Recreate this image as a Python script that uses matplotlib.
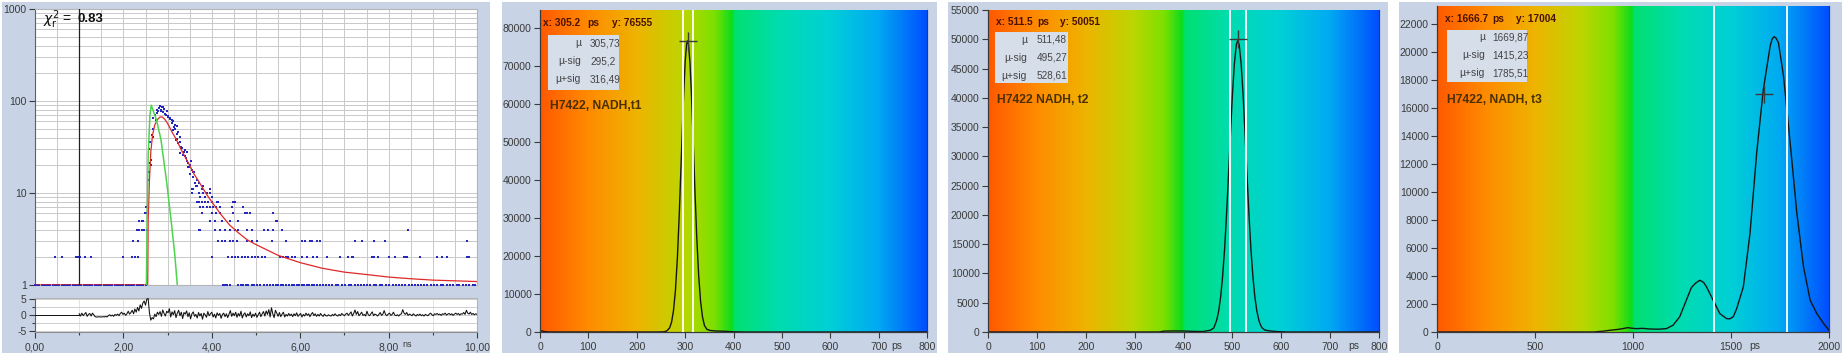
import numpy as np
import matplotlib
matplotlib.use("Agg")
import matplotlib.pyplot as plt
from matplotlib.colors import LinearSegmentedColormap
from matplotlib.patches import Rectangle
from matplotlib.ticker import MultipleLocator, FixedLocator, FixedFormatter, LogLocator, NullFormatter

plt.rcParams['font.family'] = ['Liberation Sans', 'DejaVu Sans']
plt.rcParams['mathtext.fontset'] = 'dejavusans'

# ======================= DATA =======================
# --- panel 1: fluorescence decay (counts vs ns), log scale ---
chi2_value = "0.83"
marker_line_ns = 1.0

lvl1_ns = [0.00, 0.05, 0.10, 0.15, 0.20, 0.25, 0.30, 0.35, 0.40, 0.45, 0.50, 0.55, 0.60,
           0.65, 0.70, 0.75, 0.80, 0.85, 0.90, 0.95, 1.00, 1.05, 1.10, 1.15, 1.20, 1.25,
           1.30, 1.35, 1.40, 1.45, 1.50, 1.55, 1.60, 1.65, 1.70, 1.75, 1.80, 1.85, 1.90,
           1.95, 2.00, 2.05, 2.10, 2.15, 2.20, 2.25, 2.30, 2.35, 2.40, 2.45, 2.50,
           4.26, 4.30, 4.34, 4.41, 4.60, 4.66, 4.71, 4.77, 4.83, 4.90, 4.96, 5.03, 5.09,
           5.17, 5.24, 5.32, 5.39, 5.45, 5.50, 5.56, 5.62, 5.69, 5.75, 5.81, 5.87, 5.92,
           5.98, 6.03, 6.09, 6.15, 6.21, 6.26, 6.32, 6.37, 6.45, 6.52, 6.58, 6.65, 6.72,
           6.80, 6.86, 6.94, 7.02, 7.10, 7.16, 7.24, 7.30, 7.38, 7.45, 7.52, 7.58, 7.66,
           7.72, 7.80, 7.86, 7.94, 8.02, 8.10, 8.16, 8.24, 8.30, 8.38, 8.46, 8.52, 8.60,
           8.66, 8.74, 8.80, 8.88, 8.96, 9.02, 9.10, 9.18, 9.24, 9.32, 9.40, 9.46, 9.54,
           9.60, 9.68, 9.76, 9.82, 9.90, 9.96]
lvl2_ns = [0.45, 0.60, 0.93, 0.97, 1.02, 1.13, 1.26, 1.98, 2.19, 2.26, 2.32, 4.00, 4.37,
           4.45, 4.53, 4.60, 4.68, 4.75, 4.83, 4.90, 4.98, 5.05, 5.13, 5.20, 5.54, 5.62,
           5.69, 5.73, 5.81, 5.88, 6.03, 6.15, 6.30, 6.38, 6.60, 6.90, 7.09, 7.17, 7.20,
           7.62, 7.66, 7.77, 8.00, 8.15, 8.34, 8.38, 8.42, 8.72, 9.09, 9.21, 9.32, 9.77, 9.81]
lvl3_ns = [2.21, 2.34, 4.15, 4.22, 4.30, 4.41, 4.49, 4.56, 4.79, 4.90, 5.02, 5.36, 5.69,
           6.03, 6.11, 6.22, 6.26, 6.37, 6.45, 7.25, 7.40, 7.66, 7.92, 9.77]
lvl4_ns = [2.30, 2.36, 2.41, 2.47, 2.53, 3.72, 3.73, 4.07, 4.19, 4.30, 4.41, 4.53, 4.60,
           4.79, 4.90, 5.17, 5.28, 5.39, 5.58, 8.45]
lvl5_ns = [2.36, 2.41, 2.45, 3.96, 4.07, 4.23, 4.41, 4.60, 5.45, 5.47]
lvl6_ns = [2.49, 2.53, 3.77, 4.00, 4.10, 4.19, 4.49, 4.75, 4.79, 4.87, 5.39]
lvl7_ns = [2.50, 3.73, 3.81, 3.89, 3.96, 4.03, 4.10, 4.19, 4.45, 4.71]
lvl8_ns = [3.66, 3.70, 3.77, 3.85, 3.92, 4.00, 4.11, 4.15, 4.49, 4.53]

peak_ns = [3.74, 3.85, 4.00, 3.81, 3.55, 3.58, 3.90, 3.72, 3.95, 3.55,
           3.77, 3.67, 3.62, 3.70, 3.66, 3.60, 3.57, 3.51, 3.47, 3.55,
           3.58, 3.51, 3.43, 3.47, 3.39, 3.34, 3.43, 3.36, 3.32, 3.28,
           3.39, 3.24, 3.28, 3.22, 3.19, 3.27, 3.21, 3.24, 3.13, 3.17,
           3.21, 3.17, 3.13, 3.09, 3.05, 3.02, 2.98, 2.94, 2.89, 2.84,
           2.79, 2.75, 2.83, 2.87, 2.90, 2.71, 2.68, 2.74, 2.66, 2.64,
           2.68, 2.62, 2.60, 2.63, 2.58, 2.57, 2.59, 2.61, 2.92, 2.96,
           3.00, 2.81, 2.86, 3.10, 3.06, 3.15, 2.77, 3.30, 3.41, 3.49,
           3.53, 3.64, 3.80, 3.96]
peak_counts = [9, 9, 9, 10, 10, 11, 10, 10, 11, 11,
               11, 12, 13, 13, 14, 17, 15, 16, 19, 18,
               17, 20, 22, 21, 25, 26, 28, 28, 31, 27,
               29, 35, 36, 39, 38, 41, 44, 46, 48, 50,
               53, 55, 60, 62, 65, 69, 77, 73, 75, 78,
               77, 80, 88, 87, 85, 70, 65, 62, 50, 43,
               41, 23, 21, 20, 14, 17, 30, 36, 82, 71,
               67, 84, 79, 57, 63, 52, 74, 32, 24, 19,
               22, 12, 12, 10]

fit_ns = [0.0, 2.50, 2.55, 2.56, 2.59, 2.62, 2.66, 2.71, 2.77, 2.83, 2.88, 2.94, 3.00,
          3.10, 3.20, 3.30, 3.40, 3.50, 3.60, 3.70, 3.80, 3.90, 4.00, 4.20, 4.40, 4.60,
          4.80, 5.00, 5.50, 6.00, 6.50, 7.00, 7.50, 8.00, 8.50, 9.00, 9.50, 10.0]
fit_counts = [1.0, 1.0, 1.0, 5.0, 14, 28, 43, 55, 63, 67, 67, 63, 57,
              46, 38, 30, 24.5, 20, 16, 13.5, 11.2, 9.4, 8.0, 5.9, 4.5, 3.7,
              3.1, 2.75, 2.1, 1.75, 1.52, 1.38, 1.30, 1.22, 1.17, 1.13, 1.11, 1.09]

irf_ns = [2.52, 2.54, 2.56, 2.60, 2.63, 2.75, 2.85, 2.98, 3.09, 3.16, 3.22]
irf_counts = [1.0, 6, 25, 70, 90, 62, 38, 13, 4.5, 2.2, 1.0]

resid_flat_ns = [0.0, 1.0]
resid_flat = [0.0, 0.0]
resid_start, resid_end = 1.0, 10.0
residuals = [
    0.4, -0.3, 0.6, -0.2, 0.3, 0.8, -0.4, 0.2, 0.5, -0.3,
    0.6, 0.1, -0.5, -0.6, -0.6, -0.5, -0.6, -0.6, -0.5, -0.6,
    -0.4, -0.6, -0.2, 0.1, -0.3, 0.0, -0.4, 0.2, -0.1, 0.3,
    -0.2, 0.5, 0.9, 0.2, 0.6, -0.1, 0.4, 1.2, 0.3, 0.8,
    1.5, 0.4, 1.9, 0.9, 2.4, 1.3, 3.2, 2.1, 3.8, 4.4,
    3.1, 5.0, 5.2, 0.6, -1.6, -0.8, -1.2, 0.3, -0.5, 0.9,
    0.2, 1.1, -0.4, 1.6, 0.5, -0.3, 1.2, 0.7, 2.0, -0.6,
    1.0, 0.1, 1.4, -0.8, 0.6, 1.5, -0.2, 0.9, -1.1, 0.8,
    0.3, 1.3, -0.5, 0.7, -1.2, 0.4, 1.0, -0.4, 0.2, -0.9,
    0.8, -0.3, 0.5, -1.3, 0.6, 0.1, -0.7, 1.1, -0.2, 0.4,
    0.9, -0.6, 0.3, -0.9, 0.7, -0.1, 0.5, -1.0, 0.2, 0.6,
    -0.5, 0.4, -0.8, 0.3, 1.4, -0.4, 0.6, -0.2, 0.9, -0.7,
    0.5, -0.3, 1.2, -0.9, 0.2, 0.7, -0.6, 0.4, -0.2, 1.0,
    -0.8, 0.3, -0.4, 0.6, -0.7, 0.1, 0.9, -0.5, 0.4, 1.1,
    -0.3, 1.3, 0.2, 1.7, -0.6, 2.3, 0.4, -0.8, 1.5, 0.6,
    -0.4, 0.8, -0.5, 0.3, 0.9, -0.6, 0.2, -0.3, 0.5, -0.2,
    0.3, -0.5, 0.4, -0.2, 0.7, -0.4, 0.1, 0.5, -0.6, 0.2,
    -0.3, 0.6, -0.1, 0.4, -0.5, 0.3, 0.8, -0.2, 0.4, -0.4,
    0.2, -0.3, 0.5, -0.1, -0.4, 0.3, -0.2, -0.3, 0.1, -0.2,
    -0.3, 0.2, -0.2, 0.4, -0.1, -0.3, 0.2, -0.2, 0.5, 0.1,
    -0.2, 0.3, 0.6, -0.1, 0.4, 1.0, -0.3, 0.5, 1.6, 0.2,
    1.1, -0.2, 0.3, 0.9, -0.1, 0.2, -0.3, 1.2, 0.1, -0.2,
    0.4, 1.0, -0.2, 0.3, 0.1, -0.3, 0.2, 0.8, -0.1, 0.3,
    1.4, 0.2, -0.2, 0.3, 0.6, -0.1, 0.2, 0.9, 0.0, -0.2,
    0.1, -0.3, 0.2, 0.4, 1.7, 0.6, 0.2, 0.8, -0.1, 0.3,
    0.1, -0.2, 0.4, 0.0, -0.3, 0.2, -0.1, 0.3, -0.2, 0.1,
    -0.3, 0.2, 0.0, -0.2, 0.3, 0.6, 0.1, -0.2, 0.4, 0.2,
    0.5, 0.1, 0.3, -0.1, 0.4, 0.2, 0.6, 0.0, 0.3, 0.5,
    0.1, 0.4, -0.1, 0.3, 0.6, 0.2, 0.5, 0.0, 0.4, 0.3,
    0.8, 0.2, 1.5, 0.6, 0.3, 0.9, 0.2, 0.5, 0.1, 0.4,
    0.2]
p1_xticks = [0, 2, 4, 6, 8, 10]
p1_yticks = [1, 10, 100, 1000]
res_yticks = [-5, 0, 5]

# --- panels 2-4: lifetime histograms (counts vs ps) ---
t1_ps = [0, 5, 10, 20, 60, 150, 240, 255, 262, 268, 272, 276, 280, 284, 288, 292, 296,
         300, 303, 305, 307, 310, 313, 316, 320, 324, 328, 332, 336, 340, 345, 352, 365,
         380, 395, 420, 600, 800]
t1_counts = [300, 250, 100, 0, 0, 0, 0, 33, 250, 1100, 2600, 5650, 11000, 19500, 31300,
             45400, 59600, 70900, 75650, 76600, 75650, 70900, 62800, 52600, 38100, 25000,
             14900, 8000, 3900, 1700, 700, 400, 250, 200, 80, 0, 0, 0]
t1_stats = [305.73, 295.2, 316.49]          # mu, mu-sig, mu+sig
t1_cursor = [305.2, 76555]
t1_title = "H7422, NADH,t1"

t2_ps = [0, 100, 200, 300, 350, 360, 380, 400, 420, 440, 455, 462, 468, 472, 476, 480,
         484, 488, 492, 496, 500, 504, 508, 511, 514, 518, 522, 526, 530, 534, 538, 542,
         546, 550, 555, 560, 566, 575, 590, 610, 700, 800]
t2_counts = [0, 0, 0, 0, 0, 150, 180, 170, 100, 80, 300, 700, 2030, 3590, 6000, 9450,
             14100, 19950, 26700, 33700, 40400, 45750, 49030, 49800, 49030, 45750, 40400,
             33700, 26700, 19950, 14100, 9450, 6000, 3590, 1750, 780, 350, 200, 80, 0, 0, 0]
t2_stats = [511.48, 495.27, 528.61]
t2_cursor = [511.5, 50051]
t2_title = "H7422 NADH, t2"

t3_ps = [0, 400, 800, 850, 880, 920, 948, 973, 1000, 1016, 1050, 1085, 1130, 1170, 1204,
         1238, 1272, 1298, 1320, 1341, 1360, 1375, 1409, 1443, 1477, 1494, 1512, 1529,
         1563, 1597, 1631, 1665, 1700, 1710, 1720, 1730, 1742, 1768, 1802, 1836, 1870,
         1904, 1938, 1973, 2000]
t3_counts = [0, 0, 0, 60, 120, 180, 240, 310, 260, 240, 260, 215, 200, 240, 480,
             1080, 2270, 3180, 3500, 3700, 3550, 3230, 2270, 1315, 960, 940, 1100, 1670,
             3230, 7050, 12790, 17340, 20450, 20950, 21110, 21000, 20680, 18290, 13510,
             8490, 4660, 2270, 1315, 600, 120]
t3_stats = [1669.87, 1415.23, 1785.51]
t3_cursor = [1666.7, 17004]
t3_title = "H7422, NADH, t3"

stat_labels = ["\u00b5", "\u00b5-sig", "\u00b5+sig"]

# ======================= FIGURE =======================
W, H = 1844, 357
fig = plt.figure(figsize=(W / 100, H / 100), dpi=100, facecolor='white')
BG = '#c8d4e6'
TICK_C = '#3a3a3a'
FS = 7.5


def px_axes(l, t, r, b):
    return fig.add_axes([l / W, 1 - b / H, (r - l) / W, (b - t) / H])


def px_rect(l, t, r, b, **kw):
    rect = Rectangle((l / W, 1 - b / H), (r - l) / W, (b - t) / H,
                     transform=fig.transFigure, **kw)
    fig.patches.append(rect)


def px_text(x, y, s, **kw):
    fig.text(x / W, 1 - y / H, s, **kw)


def comma(v, fmt=None):
    s = (fmt.format(v) if fmt else str(v))
    return s.replace('.', ',')


# panel backgrounds
for l, r in [(2, 490), (502, 937), (948, 1388), (1399, 1842)]:
    px_rect(l, 2, r, 353, facecolor=BG, edgecolor='none', zorder=-10)

# ---------- panel 1 main ----------
ax1 = px_axes(35, 9, 477, 285)
ax1.set_facecolor('white')
ax1.set_yscale('log')
ax1.set_xlim(0, 10)
ax1.set_ylim(1, 1000)
ax1.xaxis.set_major_locator(MultipleLocator(0.5))
ax1.tick_params(axis='x', length=0, labelbottom=False)
ax1.yaxis.set_major_locator(FixedLocator(p1_yticks))
ax1.yaxis.set_major_formatter(FixedFormatter([str(v) for v in p1_yticks]))
ax1.yaxis.set_minor_locator(LogLocator(base=10, subs=(2, 3, 4, 5, 6, 7, 8, 9)))
ax1.yaxis.set_minor_formatter(NullFormatter())
ax1.tick_params(axis='y', which='major', length=4, width=0.8, color=TICK_C,
                labelsize=FS, labelcolor=TICK_C, pad=2)
ax1.tick_params(axis='y', which='minor', length=0)
ax1.grid(True, axis='y', which='both', color='#c9c9c9', lw=0.7)
ax1.grid(True, axis='x', which='major', color='#c9c9c9', lw=0.7)
ax1.set_axisbelow(True)
for s in ax1.spines.values():
    s.set_color('#b5b5b5')
    s.set_linewidth(0.8)
ax1.spines['left'].set_color('#606060')

dots_ns = []
dots_n = []
for lvl, arr in [(1, lvl1_ns), (2, lvl2_ns), (3, lvl3_ns), (4, lvl4_ns), (5, lvl5_ns),
                 (6, lvl6_ns), (7, lvl7_ns), (8, lvl8_ns)]:
    dots_ns += arr
    dots_n += [lvl] * len(arr)
dots_ns += peak_ns
dots_n += peak_counts

ax1.plot(dots_ns, dots_n, ls='none', marker='s', ms=1.9, mew=0,
         color='#2525c0', zorder=3, clip_on=False)
ax1.plot(fit_ns, fit_counts, color='#e02828', lw=0.9, zorder=4)
ax1.plot(irf_ns, irf_counts, color='#4cd44c', lw=1.1, zorder=4)
ax1.axvline(marker_line_ns, color='#202020', lw=0.9, zorder=5)

px_text(43, 20, r'$\chi^2_{\mathrm{r}}$ =', fontsize=10, va='center', ha='left', color='#111111')
px_text(78, 19, chi2_value, fontsize=9.5, va='center', ha='left', color='#111111', fontweight='bold')

# ---------- panel 1 residuals ----------
axr = px_axes(35, 297.5, 477, 332)
axr.set_facecolor('white')
axr.set_xlim(0, 10)
axr.set_ylim(-5.3, 5.5)
res_ns = np.linspace(resid_start, resid_end, len(residuals))
axr.plot(resid_flat_ns, resid_flat, color='#111111', lw=0.7, zorder=3)
axr.plot(res_ns, residuals, color='#111111', lw=0.75, zorder=3)
axr.yaxis.set_major_locator(FixedLocator(res_yticks))
axr.yaxis.set_major_formatter(FixedFormatter([str(v) for v in res_yticks]))
axr.yaxis.set_minor_locator(FixedLocator([-2.5, 2.5]))
axr.xaxis.set_major_locator(FixedLocator(p1_xticks))
axr.xaxis.set_major_formatter(FixedFormatter([comma(v, '{:.2f}') for v in p1_xticks]))
axr.xaxis.set_minor_locator(FixedLocator([1, 3, 5, 7, 9]))
axr.tick_params(axis='both', which='major', length=4, width=0.8, color=TICK_C,
                labelsize=FS, labelcolor=TICK_C, pad=2)
axr.tick_params(axis='y', which='minor', length=2.5, width=0.8, color=TICK_C)
axr.tick_params(axis='x', which='minor', length=2, width=0.8, color=TICK_C)
axr.tick_params(axis='x', which='major', pad=3.5)
axr.grid(True, axis='y', which='both', color='#cfcfcf', lw=0.7)
axr.grid(True, axis='x', which='both', color='#dedede', lw=0.6)
axr.set_axisbelow(True)
for s in axr.spines.values():
    s.set_color('#b5b5b5')
    s.set_linewidth(0.8)
axr.spines['left'].set_color('#606060')
axr.spines['bottom'].set_color('#909090')
axr.annotate('ns', xy=(8.42, 0), xycoords=('data', 'axes fraction'),
             xytext=(0, -5.6), textcoords='offset points', ha='center', va='top',
             fontsize=6.5, color=TICK_C)

# ---------- gradient colormap ----------
grad_cmap = LinearSegmentedColormap.from_list('life', [
    (0.0, '#ff5a00'), (0.12, '#ff8a00'), (0.25, '#eeb400'), (0.37, '#bcd600'),
    (0.45, '#7ce000'), (0.497, '#0cdc1c'), (0.503, '#00e070'), (0.62, '#00dcb0'),
    (0.75, '#00d0d6'), (0.875, '#00aaf2'), (1.0, '#0050ff')])


def hist_panel(rect, xs, ys, xmax, ymax, xstep, ystep, stats, cursor, title, ps_x, lay):
    ax = px_axes(*rect)
    grad = np.linspace(0, 1, 600).reshape(1, -1)
    ax.imshow(grad, cmap=grad_cmap, aspect='auto', extent=[0, xmax, 0, ymax],
              zorder=0, interpolation='bilinear')
    ax.plot(xs, ys, color='#151515', lw=1.0, zorder=2)
    ax.axvline(stats[1], color='white', lw=1.3, zorder=3)
    ax.axvline(stats[2], color='white', lw=1.3, zorder=3)
    ax.plot([cursor[0]], [cursor[1]], marker='+', ms=13, mew=1.0, color='#3a3a3a', zorder=4)
    ax.set_xlim(0, xmax)
    ax.set_ylim(0, ymax)
    ax.xaxis.set_major_locator(MultipleLocator(xstep))
    ax.yaxis.set_major_locator(MultipleLocator(ystep))
    ax.tick_params(axis='both', length=4, width=0.8, color=TICK_C, labelsize=FS,
                   labelcolor=TICK_C)
    ax.tick_params(axis='y', pad=2)
    ax.tick_params(axis='x', pad=3.5)
    ax.spines['top'].set_visible(False)
    ax.spines['left'].set_color('#3a3a3a')
    ax.spines['bottom'].set_color('#3a3a3a')
    ax.spines['right'].set_color('#1a3a9a')
    for s in ax.spines.values():
        s.set_linewidth(0.9)
    ax.annotate('ps', xy=(ps_x, 0), xycoords=('data', 'axes fraction'),
                xytext=(0, -6.5), textcoords='offset points', ha='center', va='top',
                fontsize=FS, color=TICK_C)
    l = rect[0]
    cx, px_ps, cy, ty = lay['cur']
    px_text(l + cx, ty, f"x: {cursor[0]}", fontsize=7.3, fontweight='bold',
            color='#4a1200', va='center')
    px_text(l + px_ps, ty, "ps", fontsize=7.3, fontweight='bold', color='#4a1200', va='center')
    px_text(l + cy, ty, f"y: {cursor[1]}", fontsize=7.3, fontweight='bold',
            color='#4a1200', va='center')
    bl, bt, br, bb = lay['box']
    px_rect(l + bl, bt, l + br, bb, facecolor='#d6deea', edgecolor='none', zorder=5)
    for lab, val, ry in zip(stat_labels, stats, lay['rows']):
        px_text(l + lay['lab_r'], ry, lab, fontsize=7.5, color='#444444', ha='right',
                va='center', zorder=6)
        px_text(l + lay['val_l'], ry, comma(val), fontsize=7.2, color='#444444', ha='left',
                va='center', zorder=6)
    tx, tyy = lay['title']
    px_text(l + tx, tyy, title, fontsize=8.7, fontweight='bold', color='#4a3000',
            va='center', ha='left')
    return ax


hist_panel((540, 10, 927, 332), t1_ps, t1_counts, 800, 84700, 100, 10000,
           t1_stats, t1_cursor, t1_title, 737,
           dict(cur=(3, 47, 72, 23), box=(8, 35, 79, 90), rows=(43, 61, 79),
                lab_r=41, val_l=50, title=(10, 106)))
hist_panel((988, 10, 1379, 332), t2_ps, t2_counts, 800, 55000, 100, 5000,
           t2_stats, t2_cursor, t2_title, 748,
           dict(cur=(8, 49, 72, 22), box=(7, 32, 80, 83), rows=(40, 58, 76),
                lab_r=39, val_l=49, title=(9, 100)))
hist_panel((1437, 6, 1829, 332), t3_ps, t3_counts, 2000, 23300, 500, 2000,
           t3_stats, t3_cursor, t3_title, 1619,
           dict(cur=(8, 55, 79, 19), box=(10, 30, 90, 82), rows=(37, 55, 73),
                lab_r=48, val_l=55, title=(10, 100)))

fig.savefig('out.png', dpi=100, facecolor='white')
